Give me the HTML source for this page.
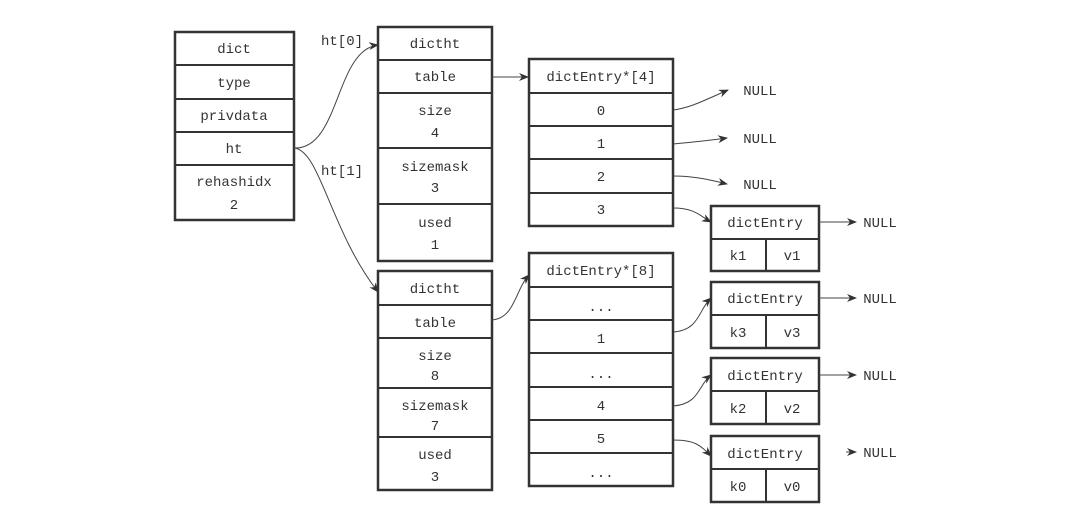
<!DOCTYPE html>
<html><head><meta charset="utf-8"><style>
html,body{margin:0;padding:0;background:#fff;}
svg{display:block;}
text{font-family:"Liberation Mono",monospace;font-size:14px;fill:#333;text-anchor:middle;}
.b{fill:none;stroke:#333;stroke-width:2.5;}
.l{fill:none;stroke:#333;stroke-width:2;}
.c{fill:none;stroke:#444;stroke-width:1;}
</style></head><body>
<svg width="1071" height="525" viewBox="0 0 1071 525">
<defs><marker id="a" markerWidth="10" markerHeight="8" refX="9" refY="4" orient="auto" markerUnits="userSpaceOnUse"><path d="M0,0 L10,4 L0,8 L3,4 Z" fill="#333"/></marker></defs>

<!-- dict -->
<rect class="b" x="175" y="32" width="119" height="188"/>
<path class="l" d="M175 65H294M175 99H294M175 132H294M175 165H294"/>
<text x="234" y="53">dict</text>
<text x="234" y="87">type</text>
<text x="234" y="120">privdata</text>
<text x="234" y="153">ht</text>
<text x="234" y="186">rehashidx</text>
<text x="234" y="209">2</text>

<!-- dictht 0 -->
<rect class="b" x="378" y="27" width="114" height="234"/>
<path class="l" d="M378 60H492M378 93H492M378 148H492M378 204H492"/>
<text x="435" y="48">dictht</text>
<text x="435" y="81">table</text>
<text x="435" y="115">size</text>
<text x="435" y="137">4</text>
<text x="435" y="171">sizemask</text>
<text x="435" y="192">3</text>
<text x="435" y="227">used</text>
<text x="435" y="249">1</text>

<!-- dictht 1 -->
<rect class="b" x="378" y="271" width="114" height="219"/>
<path class="l" d="M378 305H492M378 338H492M378 388H492M378 437H492"/>
<text x="435" y="293">dictht</text>
<text x="435" y="327">table</text>
<text x="435" y="360">size</text>
<text x="435" y="380">8</text>
<text x="435" y="410">sizemask</text>
<text x="435" y="430">7</text>
<text x="435" y="459">used</text>
<text x="435" y="481">3</text>

<!-- dictEntry*[4] -->
<rect class="b" x="529" y="59" width="144" height="167"/>
<path class="l" d="M529 93H673M529 126H673M529 159H673M529 193H673"/>
<text x="601" y="81">dictEntry*[4]</text>
<text x="601" y="115">0</text>
<text x="601" y="148">1</text>
<text x="601" y="181">2</text>
<text x="601" y="214">3</text>

<!-- dictEntry*[8] -->
<rect class="b" x="529" y="253" width="144" height="233"/>
<path class="l" d="M529 287H673M529 320H673M529 353H673M529 387H673M529 420H673M529 453H673"/>
<text x="601" y="275">dictEntry*[8]</text>
<text x="601" y="311">...</text>
<text x="601" y="343">1</text>
<text x="601" y="378">...</text>
<text x="601" y="410">4</text>
<text x="601" y="443">5</text>
<text x="601" y="477">...</text>

<!-- dictEntry boxes -->
<g>
<rect class="b" x="711" y="206" width="108" height="65"/><path class="l" d="M711 239H819M766 239V271"/>
<text x="765" y="227">dictEntry</text><text x="738" y="260">k1</text><text x="792" y="260">v1</text>
<rect class="b" x="711" y="282" width="108" height="66"/><path class="l" d="M711 315H819M766 315V348"/>
<text x="765" y="303">dictEntry</text><text x="738" y="337">k3</text><text x="792" y="337">v3</text>
<rect class="b" x="711" y="358" width="108" height="66"/><path class="l" d="M711 391H819M766 391V424"/>
<text x="765" y="380">dictEntry</text><text x="738" y="413">k2</text><text x="792" y="413">v2</text>
<rect class="b" x="711" y="436" width="108" height="66"/><path class="l" d="M711 469H819M766 469V502"/>
<text x="765" y="458">dictEntry</text><text x="738" y="491">k0</text><text x="792" y="491">v0</text>
</g>

<!-- labels -->
<text x="342" y="45">ht[0]</text>
<text x="342" y="175">ht[1]</text>
<text x="760" y="95">NULL</text>
<text x="760" y="143">NULL</text>
<text x="760" y="189">NULL</text>
<text x="880" y="227">NULL</text>
<text x="880" y="303">NULL</text>
<text x="880" y="380">NULL</text>
<text x="880" y="457">NULL</text>

<!-- connectors -->
<path class="c" marker-end="url(#a)" d="M294 148 C340 150 335 50 378 45"/>
<path class="c" marker-end="url(#a)" d="M294 148 C320 150 330 230 378 292"/>
<path class="c" marker-end="url(#a)" d="M492 77 L528 77"/>
<path class="c" marker-end="url(#a)" d="M492 320 C515 318 515 290 529 275"/>
<path class="c" marker-end="url(#a)" d="M673 110 C690 108 705 100 728 90"/>
<path class="c" marker-end="url(#a)" d="M673 144 C695 142 705 141 727 138"/>
<path class="c" marker-end="url(#a)" d="M673 176 C695 176 710 180 727 184"/>
<path class="c" marker-end="url(#a)" d="M673 208 C695 208 700 216 711 222"/>
<path class="c" marker-end="url(#a)" d="M673 332 C700 330 698 310 711 298"/>
<path class="c" marker-end="url(#a)" d="M673 406 C700 404 698 385 711 375"/>
<path class="c" marker-end="url(#a)" d="M673 440 C695 440 700 445 711 456"/>
<path class="c" marker-end="url(#a)" d="M819 222 H856"/>
<path class="c" marker-end="url(#a)" d="M819 298 H856"/>
<path class="c" marker-end="url(#a)" d="M819 375 H856"/>
<path class="c" marker-end="url(#a)" d="M846 452 H856"/>
</svg>
</body></html>
